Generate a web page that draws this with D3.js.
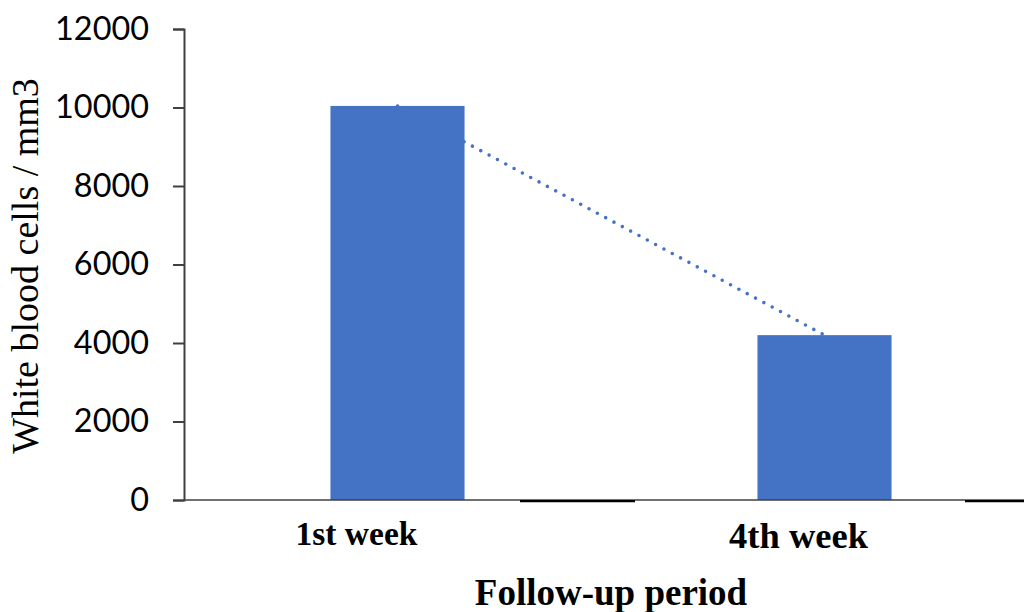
<!DOCTYPE html>
<html>
<head>
<meta charset="utf-8">
<script src="https://cdn.jsdelivr.net/npm/d3@7"></script>
<style>
  html, body { margin: 0; padding: 0; background: #fff; }
  svg { display: block; }
</style>
</head>
<body>
<svg id="chart" width="1024" height="612"></svg>
<script>
// White blood cell counts at two follow-up points
const categories = ["1st week", "4th week"];
const wbcValues = [10040, 4200];
const yTicks = [0, 2000, 4000, 6000, 8000, 10000, 12000];
const yLabel = "White blood cells / mm3";
const xLabel = "Follow-up period";

const barColor = "#4472C4";
const svg = d3.select("#chart");

const x = d3.scaleBand()
  .domain(categories)
  .range([184, 1038])
  .paddingInner(0.686)
  .paddingOuter(0.343);

const y = d3.scaleLinear()
  .domain([0, 12000])
  .range([500, 29]);

// Bars
svg.append("g")
  .selectAll("rect")
  .data(categories)
  .join("rect")
  .attr("x", d => x(d))
  .attr("width", x.bandwidth())
  .attr("y", (d, i) => y(wbcValues[i]))
  .attr("height", (d, i) => y(0) - y(wbcValues[i]))
  .attr("fill", barColor);

// Linear trendline (least squares over category index)
const n = wbcValues.length;
const idx = d3.range(n);
const mx = d3.mean(idx), my = d3.mean(wbcValues);
const slope = d3.sum(idx, i => (i - mx) * (wbcValues[i] - my)) / d3.sum(idx, i => (i - mx) ** 2);
const intercept = my - slope * mx;
const trend = idx.map(i => [x(categories[i]) + x.bandwidth() / 2, y(intercept + slope * i)]);

svg.append("path")
  .attr("d", d3.line()(trend))
  .attr("fill", "none")
  .attr("stroke", barColor)
  .attr("stroke-width", 3.6)
  .attr("stroke-linecap", "round")
  .attr("stroke-dasharray", "0 9.45");

// Y axis
const yAxis = svg.append("g")
  .attr("transform", "translate(184,0)")
  .call(d3.axisLeft(y).tickValues(yTicks).tickSize(11).tickPadding(24).tickFormat(d3.format("d")));
yAxis.select(".domain").attr("stroke", "#404040").attr("stroke-width", 2);
yAxis.selectAll(".tick line").attr("stroke", "#404040").attr("stroke-width", 2);
yAxis.selectAll(".tick text")
  .attr("font-family", "Lato, 'Open Sans', sans-serif")
  .attr("font-size", 32.4)
  .attr("fill", "#000");

// X axis baseline
svg.append("line")
  .attr("x1", 184).attr("x2", 1024)
  .attr("y1", y(0)).attr("y2", y(0))
  .attr("stroke", "#404040")
  .attr("stroke-width", 1.5);

// Heavier baseline segments
[[520, 635], [965, 1024]].forEach(([a, b]) => {
  svg.append("line")
    .attr("x1", a).attr("x2", b)
    .attr("y1", y(0) + 1.2).attr("y2", y(0) + 1.2)
    .attr("stroke", "#000")
    .attr("stroke-width", 2.2);
});

// Category labels
const catStyle = [
  { dx: -41, baseline: 545, size: 33.5 },
  { dx: -26, baseline: 548, size: 36.5 }
];
svg.append("g")
  .selectAll("text")
  .data(categories)
  .join("text")
  .attr("x", (d, i) => x(d) + x.bandwidth() / 2 + catStyle[i].dx)
  .attr("y", (d, i) => catStyle[i].baseline)
  .attr("text-anchor", "middle")
  .attr("font-family", "'Liberation Serif', 'Times New Roman', serif")
  .attr("font-weight", "bold")
  .attr("font-size", (d, i) => catStyle[i].size)
  .attr("fill", "#000")
  .text(d => d);

// Axis titles
svg.append("text")
  .attr("x", 611)
  .attr("y", 605)
  .attr("text-anchor", "middle")
  .attr("font-family", "'Liberation Serif', 'Times New Roman', serif")
  .attr("font-weight", "bold")
  .attr("font-size", 37)
  .attr("fill", "#000")
  .text(xLabel);

svg.append("text")
  .attr("transform", "translate(38,266) rotate(-90)")
  .attr("text-anchor", "middle")
  .attr("font-family", "'Liberation Serif', 'Times New Roman', serif")
  .attr("font-size", 38)
  .attr("fill", "#000")
  .text(yLabel);
</script>
</body>
</html>
